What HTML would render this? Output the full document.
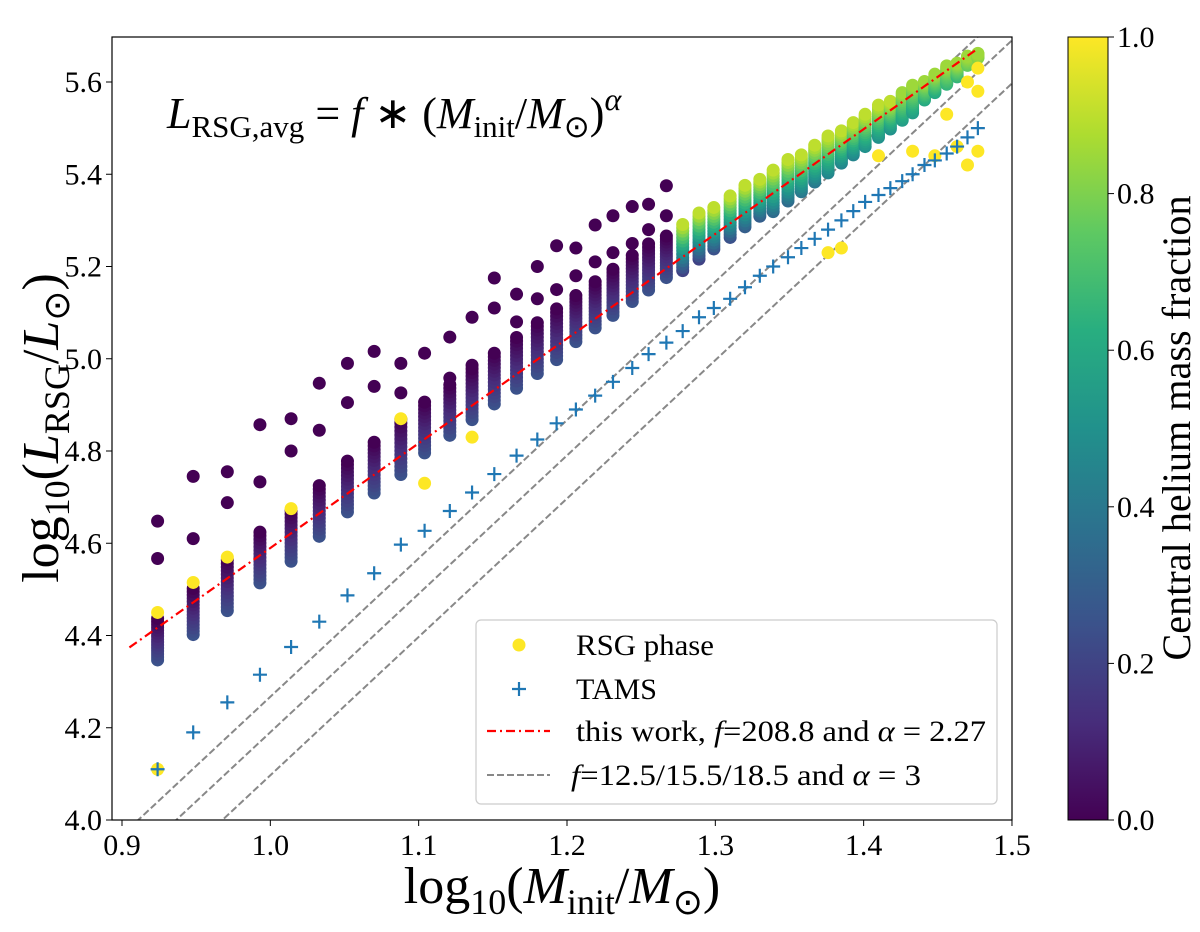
<!DOCTYPE html>
<html><head><meta charset="utf-8"><style>
body{margin:0;background:#fff}
svg{display:block;font-family:"Liberation Serif",serif}
</style></head><body>
<svg id="chart" width="1200" height="932">
<defs>
<linearGradient id="vir" x1="0" y1="1" x2="0" y2="0">
<stop offset="0" stop-color="#440154"/><stop offset="0.125" stop-color="#472d7b"/><stop offset="0.25" stop-color="#3b528b"/><stop offset="0.375" stop-color="#2c728e"/><stop offset="0.5" stop-color="#21918c"/><stop offset="0.625" stop-color="#28ae80"/><stop offset="0.75" stop-color="#5ec962"/><stop offset="0.875" stop-color="#addc30"/><stop offset="1" stop-color="#fde725"/>
</linearGradient>
<clipPath id="pc"><rect x="112" y="37" width="900" height="783"/></clipPath>
</defs>
<g id="plot" clip-path="url(#pc)"></g>
<rect x="112" y="37" width="900" height="783" fill="none" stroke="#000" stroke-width="1.2"/>
<g id="axes"></g>
<text x="167" y="128" font-size="44" font-style="italic">L<tspan font-size="31" font-style="normal" dy="9">RSG,avg</tspan><tspan font-style="normal" dy="-9"> = </tspan>f<tspan font-style="normal"> ∗ (</tspan>M<tspan font-size="31" font-style="normal" dy="9">init</tspan><tspan font-style="normal" dy="-9">/</tspan>M<tspan font-size="31" font-style="normal" dy="9">⊙</tspan><tspan font-style="normal" dy="-9">)</tspan><tspan font-size="32" dy="-18">α</tspan></text>
<g>
<rect x="476" y="620" width="521" height="184" rx="5" fill="#fff" stroke="#ccc" stroke-width="1.2"/>
<circle cx="519" cy="645" r="6.5" fill="#fde725"/>
<text x="576" y="655" font-size="30" textLength="138" lengthAdjust="spacingAndGlyphs">RSG phase</text>
<path d="M512 689h14M519 682v14" stroke="#1f77b4" stroke-width="2.2"/>
<text x="576" y="699" font-size="30" textLength="81" lengthAdjust="spacingAndGlyphs">TAMS</text>
<line x1="487" y1="731" x2="550" y2="731" stroke="#f00" stroke-width="2.2" stroke-dasharray="9,4,2,4"/>
<text x="576" y="741" font-size="30" textLength="410" lengthAdjust="spacingAndGlyphs">this work, <tspan font-style="italic">f</tspan>=208.8 and <tspan font-style="italic">α</tspan> = 2.27</text>
<line x1="487" y1="775" x2="550" y2="775" stroke="#888" stroke-width="2" stroke-dasharray="7,3"/>
<text x="571" y="785" font-size="30" textLength="350" lengthAdjust="spacingAndGlyphs"><tspan font-style="italic">f</tspan>=12.5/15.5/18.5 and <tspan font-style="italic">α</tspan> = 3</text>
</g>
<text transform="translate(58,428) rotate(-90)" text-anchor="middle" font-size="52">log<tspan font-size="36" dy="11">10</tspan><tspan dy="-11">(</tspan><tspan font-style="italic">L</tspan><tspan font-size="36" dy="11">RSG</tspan><tspan dy="-11">/</tspan><tspan font-style="italic">L</tspan><tspan font-size="36" dy="11">⊙</tspan><tspan dy="-11">)</tspan></text>
<text x="562" y="903" text-anchor="middle" font-size="52">log<tspan font-size="36" dy="11">10</tspan><tspan dy="-11">(</tspan><tspan font-style="italic">M</tspan><tspan font-size="36" dy="11">init</tspan><tspan dy="-11">/</tspan><tspan font-style="italic">M</tspan><tspan font-size="36" dy="11">⊙</tspan><tspan dy="-11">)</tspan></text>
<rect x="1068" y="37" width="40" height="783" fill="url(#vir)" stroke="#000" stroke-width="1"/>
<g id="cbticks"></g>
<text transform="translate(1190,428) rotate(-90)" text-anchor="middle" font-size="40" textLength="465" lengthAdjust="spacingAndGlyphs">Central helium mass fraction</text>
</svg>
<script>
const logM=[0.924,0.948,0.971,0.993,1.014,1.033,1.052,1.070,1.088,1.104,1.121,1.136,1.151,1.166,1.180,1.193,1.206,1.219,1.231,1.244,1.255,1.267,1.278,1.289,1.299,1.310,1.320,1.330,1.339,1.349,1.358,1.367,1.376,1.385,1.393,1.401,1.410,1.418,1.426,1.433,1.441,1.448,1.456,1.463,1.470,1.477];
const colHi=[4.437,4.502,4.564,4.624,4.671,4.725,4.778,4.819,4.869,4.906,4.944,4.978,5.012,5.046,5.078,5.108,5.137,5.167,5.194,5.224,5.249,5.266,5.291,5.316,5.328,5.353,5.376,5.389,5.409,5.432,5.442,5.463,5.483,5.494,5.512,5.530,5.550,5.558,5.577,5.593,5.601,5.617,5.635,5.641,5.656,5.662];
const colLo=[4.347,4.402,4.454,4.514,4.561,4.615,4.668,4.709,4.749,4.796,4.834,4.868,4.902,4.936,4.968,4.998,5.037,5.067,5.094,5.124,5.149,5.176,5.191,5.216,5.238,5.263,5.286,5.309,5.319,5.342,5.362,5.383,5.403,5.424,5.442,5.460,5.480,5.498,5.517,5.533,5.561,5.577,5.595,5.611,5.636,5.652];
const cHi=[0,0,0,0,0,0,0,0,0,0,0,0,0,0,0,0,0,0,0,0,0,0,0.9,0.9,0.9,0.9,0.9,0.9,0.9,0.9,0.9,0.9,0.9,0.9,0.9,0.9,0.9,0.9,0.85,0.85,0.85,0.85,0.85,0.85,0.85,0.85];
const cLo=[0.25,0.25,0.25,0.25,0.25,0.25,0.25,0.25,0.25,0.25,0.25,0.25,0.25,0.25,0.25,0.25,0.25,0.25,0.25,0.25,0.25,0.25,0.2,0.2,0.25,0.25,0.3,0.3,0.35,0.35,0.4,0.4,0.45,0.45,0.45,0.5,0.5,0.5,0.55,0.55,0.6,0.6,0.65,0.65,0.75,0.8];
const tamsL=[4.11,4.19,4.255,4.315,4.375,4.43,4.487,4.535,4.597,4.627,4.67,4.71,4.75,4.79,4.825,4.86,4.89,4.92,4.95,4.98,5.01,5.035,5.06,5.09,5.11,5.13,5.155,5.18,5.20,5.22,5.24,5.26,5.28,5.30,5.32,5.34,5.355,5.37,5.385,5.40,5.42,5.43,5.445,5.46,5.48,5.50];
const outX=[0.924,0.924,0.948,0.948,0.971,0.971,0.993,0.993,1.014,1.014,1.033,1.033,1.052,1.052,1.070,1.070,1.088,1.088,1.104,1.121,1.121,1.136,1.136,1.151,1.151,1.166,1.166,1.180,1.180,1.193,1.193,1.206,1.206,1.219,1.219,1.231,1.231,1.244,1.244,1.255,1.255,1.267,1.267];
const outL=[4.648,4.567,4.745,4.61,4.755,4.688,4.857,4.733,4.87,4.80,4.947,4.845,4.99,4.905,5.016,4.94,4.99,4.926,5.012,5.047,4.958,5.09,4.986,5.175,5.11,5.14,5.08,5.20,5.13,5.245,5.15,5.24,5.18,5.29,5.21,5.31,5.23,5.33,5.25,5.335,5.28,5.375,5.31];
const yelX=[0.924,0.924,0.948,0.971,1.014,1.088,1.104,1.136,1.376,1.385,1.410,1.433,1.448,1.456,1.463,1.470,1.477,1.470,1.477,1.477];
const yelL=[4.11,4.45,4.515,4.57,4.675,4.87,4.73,4.83,5.23,5.24,5.44,5.45,5.44,5.53,5.46,5.42,5.45,5.60,5.58,5.63];
const xTicks=[0.9,1.0,1.1,1.2,1.3,1.4,1.5];
const yTicks=[4.0,4.2,4.4,4.6,4.8,5.0,5.2,5.4,5.6];
const cbTicks=[0.0,0.2,0.4,0.6,0.8,1.0];
const fitF=208.8, fitA=2.27;
const grayF=[12.5,15.5,18.5], grayA=3;

const X=v=>122+(v-0.9)*1483.3;
const Y=v=>820-(v-4.0)*461.25;
const NS='http://www.w3.org/2000/svg';
const vs=[[68,1,84],[72,45,123],[59,82,139],[44,114,142],[33,145,140],[40,174,128],[94,201,98],[173,220,48],[253,231,37]];
function vir(t){t=Math.max(0,Math.min(1,t))*8;const i=Math.min(7,Math.floor(t)),f=t-i;const c=vs[i].map((a,k)=>Math.round(a+(vs[i+1][k]-a)*f));return `rgb(${c})`;}
function mk(tag,at,parent){const e=document.createElementNS(NS,tag);for(const k in at)e.setAttribute(k,at[k]);parent.appendChild(e);return e;}
const plot=document.getElementById('plot'), axes=document.getElementById('axes'), cb=document.getElementById('cbticks');

grayF.forEach((f,i)=>{const a=Math.log10(f);
const l=mk('line',{x1:X(0.88),y1:Y(a+grayA*0.88),x2:X(1.52),y2:Y(a+grayA*1.52),stroke:'#888','stroke-width':2,'stroke-dasharray':'7,3'},plot);

});
outX.forEach((x,i)=>{const c=mk('circle',{cx:X(x),cy:Y(outL[i]),r:6.5,fill:vir(0)},plot);

});
logM.forEach((x,i)=>{const n=14;for(let k=0;k<=n;k++){const t=k/n;const L=colLo[i]+(colHi[i]-colLo[i])*t;
const c=mk('circle',{cx:X(x),cy:Y(L),r:6.5,fill:vir(cLo[i]+(cHi[i]-cLo[i])*t)},plot);

}});
yelX.forEach((x,i)=>{const c=mk('circle',{cx:X(x),cy:Y(yelL[i]),r:6.5,fill:vir(1)},plot);

});
{const a=Math.log10(fitF);const l=mk('line',{x1:X(0.905),y1:Y(a+fitA*0.905),x2:X(1.477),y2:Y(a+fitA*1.477),stroke:'#f00','stroke-width':2.2,'stroke-dasharray':'9,4,2,4'},plot);

}
logM.forEach((x,i)=>{const p=mk('path',{d:`M${X(x)-7} ${Y(tamsL[i])}h14M${X(x)} ${Y(tamsL[i])-7}v14`,stroke:'#1f77b4','stroke-width':2.2},plot);

});
xTicks.forEach(v=>{mk('line',{x1:X(v),y1:820,x2:X(v),y2:826,stroke:'#000'},axes);
const t=mk('text',{x:X(v),y:855,'text-anchor':'middle','font-size':30},axes);t.textContent=v.toFixed(1);

});
yTicks.forEach(v=>{mk('line',{x1:106,y1:Y(v),x2:112,y2:Y(v),stroke:'#000'},axes);
const t=mk('text',{x:102,y:Y(v)+10,'text-anchor':'end','font-size':30},axes);t.textContent=v.toFixed(1);

});
cbTicks.forEach(v=>{const y=820-v*783;mk('line',{x1:1108,y1:y,x2:1114,y2:y,stroke:'#000'},cb);
const t=mk('text',{x:1117,y:y+10,'font-size':30},cb);t.textContent=v.toFixed(1);

});
</script>
</body></html>
